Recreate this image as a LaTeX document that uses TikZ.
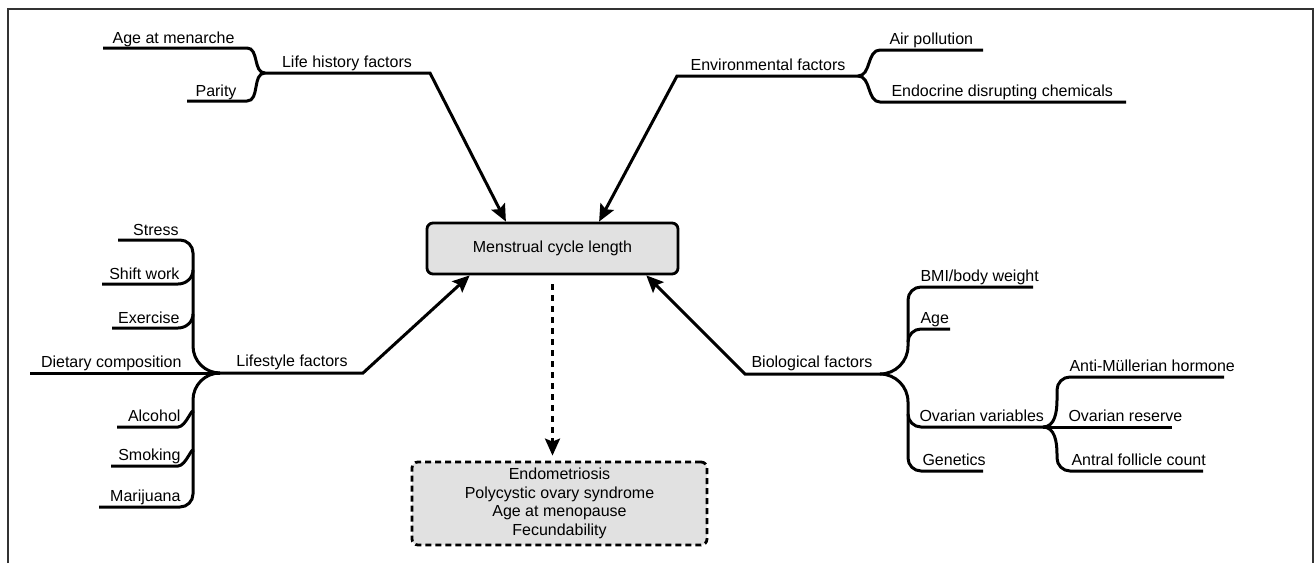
\documentclass[tikz,border=0pt]{standalone}
\usepackage{fontspec}
\setmainfont{Liberation Sans}
\usetikzlibrary{arrows.meta,positioning,calc}
\definecolor{boxgray}{HTML}{E1E1E1}

\begin{document}
\begin{tikzpicture}[x=1pt, y=-1pt, line width=3pt, >={Stealth[length=17pt,width=15pt,inset=3pt]}]
\tikzstyle{every node}=[font=\fontsize{16}{18.7}\selectfont, inner sep=0pt]
\tikzstyle{lft}=[anchor=base east]
\tikzstyle{rgt}=[anchor=base west]
\tikzstyle{mid}=[anchor=base]
\tikzstyle{box}=[draw, fill=boxgray, rounded corners=6pt, line width=2.8pt]
\useasboundingbox (0,0) rectangle (1314,563);
\draw[line width=2pt, black!80] (8,563) -- (8,9) -- (1313,9) -- (1313,563);

% centre and outcomes
\node[box, minimum width=251pt, minimum height=51pt] (m) at (552.5,248.5) {Menstrual cycle length};
\node[box, dash pattern=on 6pt off 4pt, minimum width=295pt, minimum height=83pt, align=center] (d) at (559.5,503.5)
  {Endometriosis\\Polycystic ovary syndrome\\Age at menopause\\Fecundability};
\draw[->, dash pattern=on 6pt off 5pt, shorten <=9pt, shorten >=5pt] (m.south) -- (m.south |- d.north);

% junctions and corners
\coordinate (lh) at (265,73);
\coordinate (lhc) at (430,73);
\coordinate (ej) at (858,76);
\coordinate (ec) at (677,76);
\coordinate (ls) at (220,373);
\coordinate (lsc) at (363,373);
\coordinate (bj) at (880,374);
\coordinate (bc) at (745,374);
\coordinate (oj) at (1043,427);

% labels
\node[lft] (am) at (236,43) {Age at menarche};
\node[lft] (pa) at (238,96) {Parity};
\node[mid] (lhf) at (347,67) {Life history factors};
\node[mid] (ef) at (768,70) {Environmental factors};
\node[rgt] (ap) at (888,44) {Air pollution};
\node[rgt] (ed) at (890,96) {Endocrine disrupting chemicals};
\node[lft] (st) at (180,235) {Stress};
\node[lft] (sw) at (181,279) {Shift work};
\node[lft] (ex) at (181,323) {Exercise};
\node[lft] (dc) at (183,367) {Dietary composition};
\node[mid] (lf) at (292,366) {Lifestyle factors};
\node[lft] (al) at (182,421) {Alcohol};
\node[lft] (sm) at (182,460) {Smoking};
\node[lft] (ma) at (182,501) {Marijuana};
\node[mid] (bf) at (812,367) {Biological factors};
\node[rgt] (bmi) at (919,281) {BMI/body weight};
\node[rgt] (ag) at (919,323) {Age};
\node[rgt] (ov) at (918,421) {Ovarian variables};
\node[rgt] (ge) at (921,465) {Genetics};
\node[rgt] (amh) at (1068,371) {Anti-Müllerian hormone};
\node[rgt] (or) at (1067,421) {Ovarian reserve};
\node[rgt] (af) at (1070,465) {Antral follicle count};

% life history
\draw (103,48) -- (247,48) to[out=0,in=180] (lh);
\draw (187,101) -- (247,101) to[out=0,in=180] (lh);
\draw[->] (lh) -- (lhc) -- (m.150);

% environmental
\draw (ej) to[out=0,in=180] (880,50) -- (983,50);
\draw (ej) to[out=0,in=180] (880,102) -- (1126,102);
\draw[->] (ej) -- (ec) -- (m.30);

% lifestyle
\draw (118,240) -- (180,240) to[out=0,in=90] (193,253) -- (193,346) to[out=-90,in=180] (ls);
\draw (102,284) -- (178,284) to[out=0,in=-90] (193,270);
\draw (112,328) -- (178,328) to[out=0,in=-90] (193,314);
\draw (30,373) -- (ls);
\draw (ls) to[out=180,in=90] (193,400) -- (193,494) to[out=-90,in=0] (180,507) -- (99,507);
\draw (117,427) -- (178,427) to[out=0,in=90] (193,413);
\draw (111,466) -- (178,466) to[out=0,in=90] (193,452);
\draw[->] (ls) -- (lsc) -- (m.198);

% biological
\draw (bj) to[out=0,in=-90] (908,346) -- (908,300) to[out=90,in=180] (921,287) -- (1033,287);
\draw (908,342) to[out=90,in=180] (921,329) -- (950,329);
\draw (bj) to[out=0,in=90] (908,402) -- (908,458) to[out=-90,in=180] (921,471) -- (983,471);
\draw (908,414) to[out=-90,in=180] (921,427) -- (oj);
\draw (oj) to[out=0,in=-90] (1057,400) -- (1057,390) to[out=90,in=180] (1070,377) -- (1224,377);
\draw (oj) -- (1172,427);
\draw (oj) to[out=0,in=90] (1057,454) -- (1057,458) to[out=-90,in=180] (1070,471) -- (1203,471);
\draw[->] (bj) -- (bc) -- (m.344);
\end{tikzpicture}
\end{document}
